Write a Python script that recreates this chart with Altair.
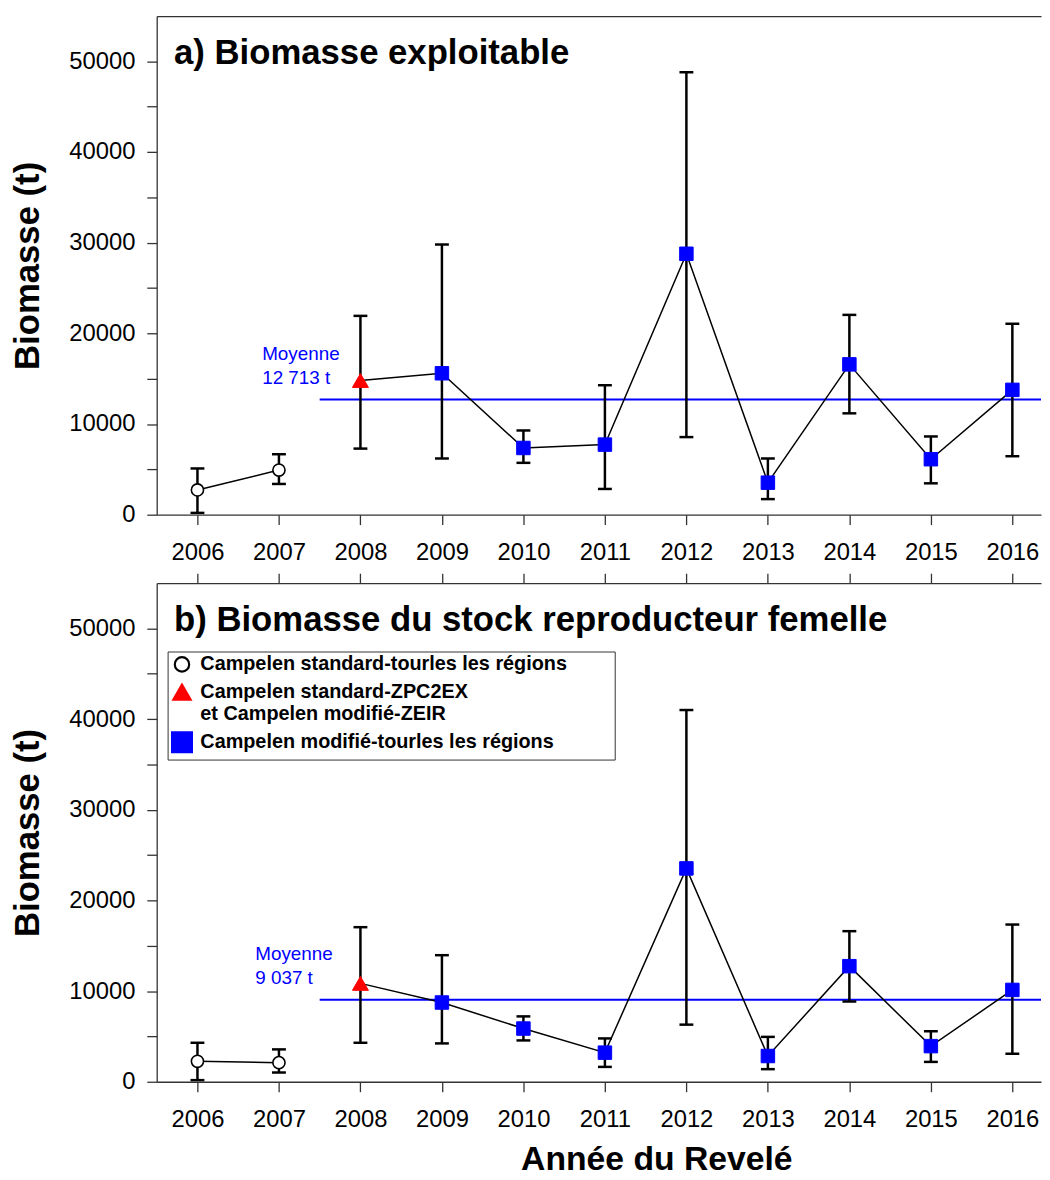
import altair as alt
import pandas as pd

# ---------------- data ----------------
YEARS = [2006, 2007, 2008, 2009, 2010, 2011, 2012, 2013, 2014, 2015, 2016]

SERIES = [
    "Campelen standard-tourles les régions",
    "Campelen standard-ZPC2EX|et Campelen modifié-ZEIR",
    "Campelen modifié-tourles les régions",
]
YEAR_SERIES = [0, 0, 1, 2, 2, 2, 2, 2, 2, 2, 2]

EXPL_VALUE = [2730, 4920, 14800, 15600, 7360, 7730, 28780, 3530, 16580, 6120, 13770]
EXPL_LOW = [200, 3390, 7290, 6200, 5720, 2840, 8560, 1720, 11180, 3460, 6450]
EXPL_HIGH = [5100, 6670, 21930, 29800, 9290, 14280, 48800, 6200, 22040, 8630, 21060]

SSB_VALUE = [2260, 2110, 10850, 8740, 5870, 3210, 23530, 2840, 12750, 3930, 10130]
SSB_LOW = [180, 1020, 4300, 4230, 4560, 1640, 6300, 1390, 8850, 2190, 3090]
SSB_HIGH = [4300, 3570, 17050, 13960, 7210, 4780, 41000, 4950, 16610, 5570, 17340]

MEANS = [12713, 9037]
MEAN_FROM = 2007.5

PANEL_TITLES = ["a) Biomasse exploitable", "b) Biomasse du stock reproducteur femelle"]
Y_TITLE = "Biomasse (t)"
X_TITLE = "Année du Revelé"
MEAN_WORD = "Moyenne"

# ---------------- style ----------------
FONT = "Liberation Sans"
W, H = 892, 503
PX_PER_YEAR = 82.2
X_DOMAIN = [2005.5, 2005.5 + W / PX_PER_YEAR]
Y_DOMAIN = [0, 55000]
AXIS_COLOR = "#333333"
BLUE = "#0000FF"
RED = "#FF0000"

MARKER = [
    dict(shape="circle", fill="white", stroke="black", size=150, strokeWidth=1.6),
    dict(shape="triangle-up", fill=RED, stroke=RED, size=260, strokeWidth=1),
    dict(shape="square", fill=BLUE, stroke=BLUE, size=185, strokeWidth=1),
]
LEGEND_FILL = ["white", RED, BLUE]
LEGEND_STROKE = ["black", RED, BLUE]
LEGEND_SHAPE = ["circle", "triangle-up", "square"]
LEGEND_SIZE = [210, 400]
MEAN_DX = [-58, -65]
PAD = "\u00a0" * 8 + "\u200b"

COMMON_AXIS = dict(
    domainColor=AXIS_COLOR, domainWidth=1.3, tickColor=AXIS_COLOR, tickWidth=1.3,
    grid=False, labelFont=FONT, labelFontSize=24, labelColor="black",
    titleFont=FONT, titleFontWeight="bold", titleColor="black",
)


def xenc(field, axis=None):
    return alt.X(f"{field}:Q", scale=alt.Scale(domain=X_DOMAIN, nice=False, zero=False), axis=axis)


def yenc(field, axis):
    return alt.Y(f"{field}:Q", scale=alt.Scale(domain=Y_DOMAIN, nice=False, zero=False), axis=axis)


def fmt_mean(v):
    return f"{v:,}".replace(",", " ") + " t"


def panel(idx, values, lows, highs, mean, last):
    df = pd.DataFrame({
        "year": YEARS,
        "value": values,
        "lo": lows,
        "hi": highs,
        "series": [SERIES[i] for i in YEAR_SERIES],
        "segment": ["std" if i == 0 else "mod" for i in YEAR_SERIES],
    })
    mean_df = pd.DataFrame({
        "start": [MEAN_FROM],
        "end": [X_DOMAIN[1]],
        "mean": [mean],
        "label": [f"{MEAN_WORD}\n{fmt_mean(mean)}"],
    })

    bottom_kw = dict(COMMON_AXIS, orient="bottom", values=YEARS, format="d", tickSize=10,
                     labelPadding=16, labelFlush=False, labelOverlap=False)
    if last:
        bottom_kw.update(title=X_TITLE, titleX=504, titleY=89, titleAlign="center",
                         titleBaseline="alphabetic", titleFontSize=34)
    else:
        bottom_kw["title"] = None
    bottom_axis = alt.Axis(**bottom_kw)

    top_axis = alt.Axis(**COMMON_AXIS, orient="top", labels=False, ticks=last, values=YEARS,
                        tickSize=10, title=PANEL_TITLES[idx], titleX=17, titleY=48,
                        titleAlign="left", titleBaseline="alphabetic", titleAngle=0,
                        titleFontSize=35)

    left_axis = alt.Axis(**COMMON_AXIS, orient="left", values=list(range(0, 50001, 5000)),
                         format="d",
                         labelExpr="datum.value % 10000 === 0 ? datum.label : ''",
                         tickSize=10, labelPadding=12, title=Y_TITLE, titleX=-119,
                         titleY=H / 2, titleAngle=270, titleAlign="center",
                         titleBaseline="alphabetic", titleFontSize=35)

    base = alt.Chart(df)
    layers = []
    mean_base = alt.Chart(mean_df)
    layers.append(mean_base.mark_rule(color=BLUE, strokeWidth=2).encode(
        x=xenc("start", top_axis), x2="end:Q", y=yenc("mean", left_axis)))
    layers.append(mean_base.mark_text(
        align="left", baseline="alphabetic", dx=MEAN_DX[idx], dy=-40, lineBreak="\n",
        lineHeight=24, font=FONT, fontSize=19, color=BLUE).encode(
        x=xenc("start"), y=yenc("mean", left_axis), text="label:N"))
    layers.append(base.mark_rule(color="black", strokeWidth=2.5).encode(
        x=xenc("year", bottom_axis), y=yenc("lo", left_axis), y2="hi:Q"))
    for f in ("lo", "hi"):
        layers.append(base.mark_rule(color="black", strokeWidth=2.5, xOffset=-7, x2Offset=7).encode(
            x=xenc("year"), x2=alt.X2("year:Q"), y=yenc(f, left_axis)))
    layers.append(base.mark_line(color="black", strokeWidth=1.5).encode(
        x=xenc("year"), y=yenc("value", left_axis), detail="segment:N", order=alt.Order("year:Q")))
    for s, st in zip(SERIES, MARKER):
        layers.append(base.transform_filter(alt.datum.series == s).mark_point(
            filled=True, opacity=1, shape=st["shape"], size=st["size"], fill=st["fill"],
            stroke=st["stroke"], strokeWidth=st["strokeWidth"]).encode(
            x=xenc("year"), y=yenc("value", left_axis)))

    if last:
        leg = alt.Legend(
            orient="none", legendX=11, legendY=69, title=None, padding=3,
            fillColor="white", strokeColor=AXIS_COLOR, labelFont=FONT, labelFontSize=20,
            labelFontWeight="bold", labelColor="black", labelLimit=800, labelOffset=7,
            rowPadding=4, symbolStrokeWidth=2.2, symbolOpacity=1,
            labelExpr=(f"datum.label === '{SERIES[0]}' ? datum.label + '{PAD}' "
                       f": split(datum.label, '|')"),
        )
        leg_df = pd.DataFrame({"series": SERIES})
        layers.append(alt.Chart(leg_df).transform_filter("false").mark_point(filled=True, opacity=1).encode(
            fill=alt.Fill("series:N", scale=alt.Scale(domain=SERIES, range=LEGEND_FILL), legend=leg),
            stroke=alt.Stroke("series:N", scale=alt.Scale(domain=SERIES, range=LEGEND_STROKE), legend=leg),
            shape=alt.Shape("series:N", scale=alt.Scale(domain=SERIES, range=LEGEND_SHAPE), legend=leg),
            size=alt.Size("series:N", scale=alt.Scale(domain=SERIES, range=LEGEND_SIZE), legend=leg),
        ))

    return alt.layer(*layers).resolve_axis(x="independent").properties(width=W, height=H)


top = panel(0, EXPL_VALUE, EXPL_LOW, EXPL_HIGH, MEANS[0], False)
bottom = panel(1, SSB_VALUE, SSB_LOW, SSB_HIGH, MEANS[1], True)

chart = (
    alt.vconcat(top, bottom, spacing=8)
    .resolve_scale(fill="independent", stroke="independent", shape="independent", size="independent")
    .resolve_legend(fill="independent", stroke="independent", shape="independent", size="independent")
    .properties(padding={"left": 3, "top": 3, "right": 0, "bottom": 0})
    .configure_view(strokeWidth=0)
)

chart.save("out.html", embed_options={"renderer": "svg", "actions": False})
